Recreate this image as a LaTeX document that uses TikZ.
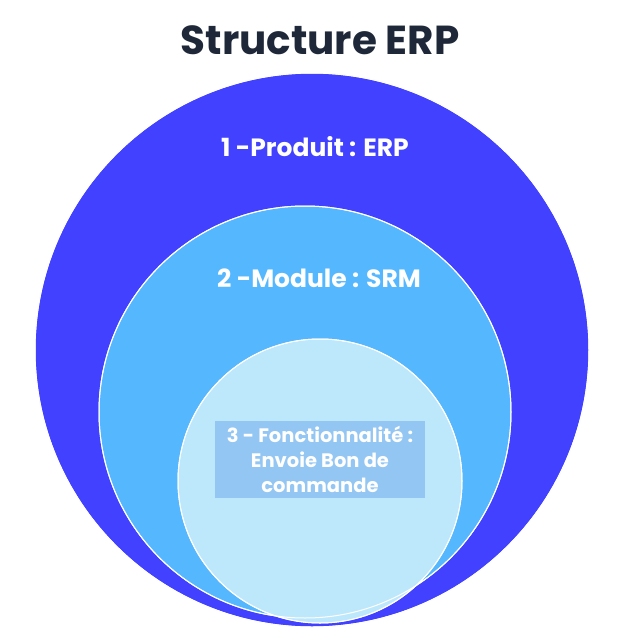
\documentclass[tikz,border=0pt]{standalone}
\usepackage{fontspec}
\setmainfont{Poppins}
\usepackage{tikz}

\definecolor{ringOne}{HTML}{4141FF}
\definecolor{ringTwo}{HTML}{55B8FF}
\definecolor{ringThree}{HTML}{BDE7FA}
\definecolor{labelBox}{HTML}{93C6F2}
\definecolor{titleInk}{HTML}{1E2838}

\tikzset{
  ring/.style={draw=white, line width=1pt},
  ringlabel/.style={text=white, font=\bfseries\fontsize{25}{30}\selectfont}
}

\begin{document}
\begin{tikzpicture}[x=1pt, y=-1pt]
  \useasboundingbox (0,0) rectangle (630,630);

  \fill[ring, fill=ringOne] (312,350) circle (277);
  \fill[ring, fill=ringTwo] (305,412) circle (206);
  \fill[ring, fill=ringThree] (320,481) circle (142);
  \draw[white, line width=1pt] (312,350) circle (277) (305,412) circle (206) (320,481) circle (142);

  \node[text=titleInk, font=\bfseries\fontsize{40.5}{48}\selectfont] (title) at (320,40) {Structure ERP};
  \node[ringlabel] (produit) at (315,147) {1 -Produit : ERP};
  \node[ringlabel] (module) at (319,278) {2 -Module : SRM};
  \node[fill=labelBox, minimum width=210pt, minimum height=77pt, inner sep=0pt, text=white, align=center,
        font=\bfseries\fontsize{19.5}{25}\selectfont] (fonction) at (320,459)
        {3 - Fonctionnalité :\\Envoie Bon de\\commande};
\end{tikzpicture}
\end{document}
